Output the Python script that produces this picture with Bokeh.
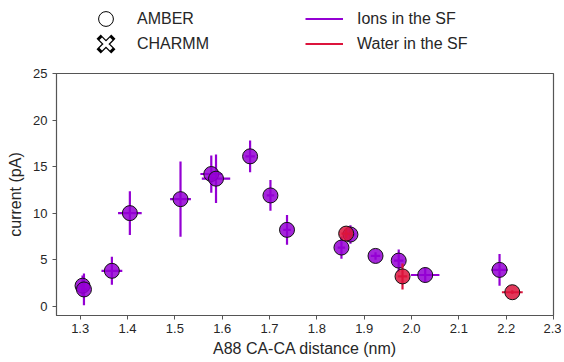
from bokeh.plotting import figure
from bokeh.layouts import column
from bokeh.models import ColumnDataSource, Range1d, FixedTicker, Legend, LegendItem, NumeralTickFormatter
from bokeh.embed import file_html
from bokeh.resources import INLINE
import numpy as np

# Ions in the SF (purple)
ion_x = [1.305, 1.308, 1.367, 1.405, 1.512, 1.577, 1.587, 1.659, 1.702, 1.737, 1.852, 1.871, 1.924, 1.973, 2.029, 2.186]
ion_y = [2.2, 1.8, 3.8, 10.0, 11.5, 14.2, 13.7, 16.1, 11.9, 8.2, 6.3, 7.7, 5.4, 4.9, 3.35, 3.9]
ion_xerr = [0.005, 0.006, 0.022, 0.025, 0.022, 0.023, 0.030, 0.010, 0.008, 0.008, 0.008, 0.010, 0.010, 0.010, 0.030, 0.017]
ion_yerr = [1.1, 1.7, 1.5, 2.35, 4.05, 2.0, 2.6, 1.7, 1.65, 1.6, 1.2, 1.0, 0.4, 1.2, 0.8, 1.7]

# Water in the SF (red)
wat_x = [1.862, 1.981, 2.213]
wat_y = [7.8, 3.2, 1.5]
wat_xerr = [0.010, 0.010, 0.022]
wat_yerr = [0.5, 1.4, 0.2]

x_ticks = [1.3, 1.4, 1.5, 1.6, 1.7, 1.8, 1.9, 2.0, 2.1, 2.2, 2.3]
y_ticks = [0, 5, 10, 15, 20, 25]

PURPLE = "#9400D3"
RED = "#DC143C"
TXT = "#262626"
FONT = "Liberation Sans"

LEFT = 56
RIGHT = 8
FRAME_W = 497
MAIN_TOP = 11

# ---------------- legend strip ----------------
LEG_FIG_H = 73 - MAIN_TOP
lg_fig = figure(frame_width=FRAME_W, frame_height=LEG_FIG_H, output_backend="svg", toolbar_location=None,
                x_range=Range1d(0, 1), y_range=Range1d(0, 1),
                min_border_left=LEFT, min_border_right=RIGHT, min_border_top=0, min_border_bottom=0,
                x_axis_type=None, y_axis_type=None)
lg_fig.grid.visible = False
lg_fig.outline_line_color = None

off = ColumnDataSource(data=dict(x=[-5, -4], y=[-5, -4]))
r_amber = lg_fig.scatter(x="x", y="y", source=off, marker="circle",
                         fill_color=None, line_color="black", line_width=1)
r_ch1 = lg_fig.scatter(x="x", y="y", source=off, marker="x",
                       line_color="black", line_width=6, line_cap="square")
r_ch2 = lg_fig.scatter(x="x", y="y", source=off, marker="x",
                       line_color="white", line_width=3.5)
r_ion = lg_fig.line(x="x", y="y", source=off, line_color=PURPLE, line_width=2)
r_wat = lg_fig.line(x="x", y="y", source=off, line_color=RED, line_width=2)

GH = 37
ROW_TOPS = [0, 25]


def mk_legend(label, renderers, x, row, gw, standoff):
    vy = LEG_FIG_H - ROW_TOPS[row] - GH
    lg = Legend(items=[LegendItem(label=label, renderers=renderers)], location=(x, vy),
                orientation="vertical",
                glyph_width=gw, glyph_height=GH, label_height=20,
                label_standoff=standoff, spacing=0, padding=0, margin=0,
                border_line_alpha=0, background_fill_alpha=0,
                label_text_font=FONT, label_text_font_size="16px",
                label_text_color=TXT)
    lg_fig.add_layout(lg, "center")


mk_legend("AMBER", [r_amber], 31, 0, 37, 13)
mk_legend("CHARMM", [r_ch1, r_ch2], 31, 1, 37, 13)
mk_legend("Ions in the SF", [r_ion], 249, 0, 38, 14)
mk_legend("Water in the SF", [r_wat], 249, 1, 38, 14)

# ---------------- main plot ----------------
p = figure(frame_width=FRAME_W, frame_height=242, output_backend="svg", toolbar_location=None,
           x_range=Range1d(1.25, 2.3), y_range=Range1d(-1, 25),
           min_border_left=LEFT, min_border_right=RIGHT, min_border_top=MAIN_TOP, min_border_bottom=40)
p.grid.visible = False
p.background_fill_color = "white"
p.border_fill_color = "white"
p.outline_line_color = "#555555"
p.outline_line_width = 1.2

for ax in (p.xaxis[0], p.yaxis[0]):
    ax.axis_line_color = "#555555"
    ax.major_tick_line_color = "#555555"
    ax.major_tick_out = 4
    ax.major_tick_in = 0
    ax.minor_tick_line_color = None
    ax.major_label_text_font = FONT
    ax.major_label_text_font_size = "13px"
    ax.major_label_text_color = TXT
    ax.axis_label_text_font = FONT
    ax.axis_label_text_font_size = "16px"
    ax.axis_label_text_font_style = "normal"
    ax.axis_label_text_color = TXT

p.xaxis.ticker = FixedTicker(ticks=x_ticks)
p.xaxis.formatter = NumeralTickFormatter(format="0.0")
p.yaxis.ticker = FixedTicker(ticks=y_ticks)
p.xaxis.axis_label = "A88 CA-CA distance (nm)"
p.yaxis.axis_label = "current (pA)"
p.xaxis.major_label_standoff = 4
p.xaxis.axis_label_standoff = 4
p.yaxis.major_label_standoff = 5
p.yaxis.axis_label_standoff = 6


def draw(xs, ys, xe, ye, color):
    xs = np.array(xs); ys = np.array(ys); xe = np.array(xe); ye = np.array(ye)
    p.segment(x0=xs - xe, y0=ys, x1=xs + xe, y1=ys, line_color=color, line_width=2.2)
    p.segment(x0=xs, y0=ys - ye, x1=xs, y1=ys + ye, line_color=color, line_width=2.2)
    p.scatter(x=xs, y=ys, marker="circle", size=15, fill_color=color, fill_alpha=0.85,
              line_color="#111111", line_width=1)


draw(ion_x, ion_y, ion_xerr, ion_yerr, PURPLE)
draw(wat_x, wat_y, wat_xerr, wat_yerr, RED)

layout = column(lg_fig, p)
open("out.html", "w").write(file_html(layout, INLINE))
